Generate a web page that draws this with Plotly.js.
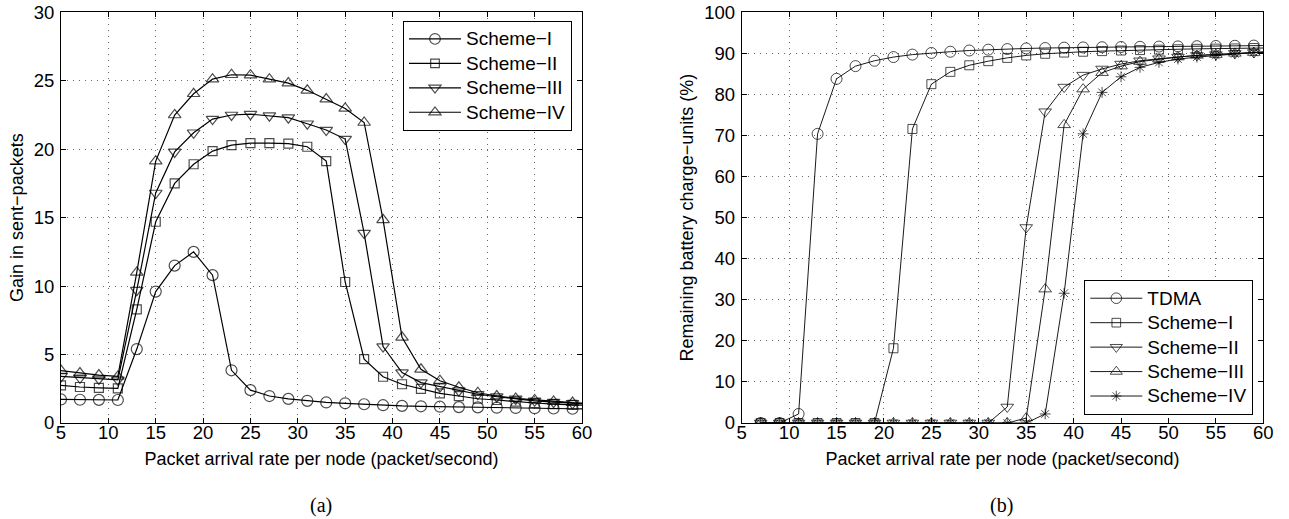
<!DOCTYPE html>
<html>
<head>
<meta charset="utf-8">
<script src="https://cdn.plot.ly/plotly-3.0.1.min.js"></script>
<style>html,body{margin:0;padding:0;background:#fff}#chart{width:1289px;height:519px}</style>
</head>
<body>
<div id="chart"></div>
<script>
// ---- Data: panel (a) gain in sent-packets ----
const xGain = [5,7,9,11,13,15,17,19,21,23,25,27,29,31,33,35,37,39,41,43,45,47,49,51,53,55,57,59,60];
const gainSchemeI   = [1.72,1.70,1.69,1.68,5.4,9.6,11.5,12.5,10.8,3.85,2.4,1.97,1.76,1.62,1.5,1.44,1.37,1.3,1.25,1.22,1.19,1.16,1.14,1.12,1.1,1.08,1.06,1.04,1.03];
const gainSchemeII  = [2.75,2.63,2.57,2.53,8.3,14.7,17.5,18.9,19.86,20.3,20.44,20.45,20.4,20.18,19.13,10.3,4.66,3.38,2.83,2.49,2.17,1.97,1.77,1.68,1.56,1.46,1.38,1.32,1.3];
const gainSchemeIII = [3.4,3.3,3.22,3.15,9.7,16.8,19.8,21.2,22.2,22.5,22.56,22.45,22.3,21.86,21.4,20.74,13.87,5.58,3.68,2.95,2.65,2.36,2.1,1.92,1.76,1.62,1.52,1.44,1.41];
const gainSchemeIV  = [3.83,3.65,3.5,3.4,11.0,19.13,22.5,24.05,25.12,25.44,25.41,25.12,24.83,24.3,23.66,22.98,21.95,14.84,6.26,3.92,3.09,2.61,2.21,1.97,1.8,1.68,1.58,1.49,1.46];

// ---- Data: panel (b) remaining battery charge-units (%) ----
const xBattery = [7,9,11,13,15,17,19,21,23,25,27,29,31,33,35,37,39,41,43,45,47,49,51,53,55,57,59,60];
const batTDMA      = [0,0,2.2,70.4,83.8,86.9,88.2,89.1,89.7,90.1,90.4,90.7,90.9,91.05,91.2,91.3,91.4,91.45,91.5,91.55,91.6,91.65,91.7,91.75,91.8,91.85,91.9,91.9];
const batSchemeI   = [0,0,0,0,0,0,0,18.2,71.6,82.5,85.5,87.1,88.1,88.9,89.5,89.9,90.2,90.4,90.55,90.7,90.8,90.9,91.0,91.1,91.15,91.2,91.3,91.3];
const batSchemeII  = [0,0,0,0,0,0,0,0,0,0,0,0,0,3.9,47.6,75.8,81.8,84.7,86.2,87.4,88.2,88.7,89.1,89.5,89.7,90.0,90.2,90.3];
const batSchemeIII = [0,0,0,0,0,0,0,0,0,0,0,0,0,0,1.2,32.6,72.6,81.3,85.3,86.9,88.0,88.6,89.1,89.5,89.7,90.0,90.2,90.3];
const batSchemeIV  = [0,0,0,0,0,0,0,0,0,0,0,0,0,0,0,2.2,31.6,70.4,80.5,84.3,86.6,87.8,88.6,89.1,89.5,89.9,90.2,90.3];

const namesA = ["Scheme\u2212I","Scheme\u2212II","Scheme\u2212III","Scheme\u2212IV"];
const namesB = ["TDMA","Scheme\u2212I","Scheme\u2212II","Scheme\u2212III","Scheme\u2212IV"];

// markers only at odd x (line segments extend to the axes edges)
const sizesFor = (xs, s) => xs.map(v => (v % 2 === 1 ? s : 0));
// legend label shown a little larger than the legend's row spacing font
const bigLabel = n => '<span style="font-size:19px">' + n + '</span>';

const FONT = "Liberation Sans, Arial, Helvetica, sans-serif";
const traces = [];
const symA = ["circle-open","square-open","triangle-down-open","triangle-up-open"];
[gainSchemeI, gainSchemeII, gainSchemeIII, gainSchemeIV].forEach((ys, i) => {
  traces.push({
    x: xGain, y: ys, name: bigLabel(namesA[i]), type: "scatter", mode: "lines+markers",
    xaxis: "x", yaxis: "y", legend: "legend",
    line: {color: "#000", width: 1.2},
    marker: {symbol: symA[i], size: sizesFor(xGain, i === 1 ? 9 : 11), color: "#000", line: {color: "#000", width: 1.2}}
  });
});
const symB = ["circle-open","square-open","triangle-down-open","triangle-up-open","asterisk-open"];
[batTDMA, batSchemeI, batSchemeII, batSchemeIII, batSchemeIV].forEach((ys, i) => {
  traces.push({
    x: xBattery, y: ys, name: bigLabel(namesB[i]), type: "scatter", mode: "lines+markers",
    xaxis: "x2", yaxis: "y2", legend: "legend2",
    line: {color: "#000", width: 0.9},
    marker: {symbol: symB[i], size: sizesFor(xBattery, i === 1 ? 9 : (i === 4 ? 9 : 11)), color: "#000", line: {color: "#000", width: 1}}
  });
});

const axisCommon = {
  showline: true, linecolor: "#000", linewidth: 1, mirror: "ticks",
  ticks: "inside", ticklen: 5, tickcolor: "#000", tickwidth: 1,
  showgrid: true, gridcolor: "#666", gridwidth: 1, griddash: "1px,5px",
  zeroline: false, tickfont: {family: FONT, size: 18.5, color: "#000"}
};
const titleFont = {family: FONT, size: 18, color: "#000"};

const layout = {
  width: 1289, height: 519,
  margin: {l: 0, r: 0, t: 0, b: 0},
  paper_bgcolor: "#fff", plot_bgcolor: "#fff",
  font: {family: FONT, color: "#000"},
  xaxis: Object.assign({}, axisCommon, {domain: [61/1289, 582/1289], range: [5, 60], dtick: 5, tick0: 5, anchor: "y",
    ticklabelstandoff: -7,
    title: {text: "Packet arrival rate per node (packet/second)", font: titleFont, standoff: 10}}),
  yaxis: Object.assign({}, axisCommon, {domain: [1 - 423/519, 1 - 12.3/519], range: [0, 30], dtick: 5, anchor: "x",
    ticklabelstandoff: 2,
    title: {text: "Gain in sent\u2212packets", font: titleFont, standoff: 5}}),
  xaxis2: Object.assign({}, axisCommon, {domain: [741.7/1289, 1263.3/1289], range: [5, 60], dtick: 5, tick0: 5, anchor: "y2",
    ticklabelstandoff: -7,
    title: {text: "Packet arrival rate per node (packet/second)", font: titleFont, standoff: 10}}),
  yaxis2: Object.assign({}, axisCommon, {domain: [1 - 423/519, 1 - 12.3/519], range: [0, 100], dtick: 10, anchor: "x2",
    ticklabelstandoff: 2,
    title: {text: "Remaining battery charge\u2212units (%)", font: titleFont, standoff: 5}}),
  legend: {x: 403/1289, y: 1 - 20.7/519, xanchor: "left", yanchor: "top", bgcolor: "#fff",
    bordercolor: "#000", borderwidth: 1, font: {family: FONT, size: 16.5, color: "#000"}, itemwidth: 52, tracegroupgap: 0},
  legend2: {x: 1084.3/1289, y: 1 - 415/519, xanchor: "left", yanchor: "bottom", bgcolor: "#fff",
    bordercolor: "#000", borderwidth: 1, font: {family: FONT, size: 16.5, color: "#000"}, itemwidth: 52, tracegroupgap: 0},
  annotations: [
    {text: "(a)", xref: "paper", yref: "paper", x: 321/1289, y: 1 - 505/519, xanchor: "center", yanchor: "middle", showarrow: false,
     font: {family: "Liberation Serif, Times New Roman, serif", size: 20, color: "#000"}},
    {text: "(b)", xref: "paper", yref: "paper", x: 1001/1289, y: 1 - 505/519, xanchor: "center", yanchor: "middle", showarrow: false,
     font: {family: "Liberation Serif, Times New Roman, serif", size: 20, color: "#000"}}
  ],
  showlegend: true
};

Plotly.newPlot("chart", traces, layout, {displayModeBar: false, staticPlot: true});
</script>
</body>
</html>
